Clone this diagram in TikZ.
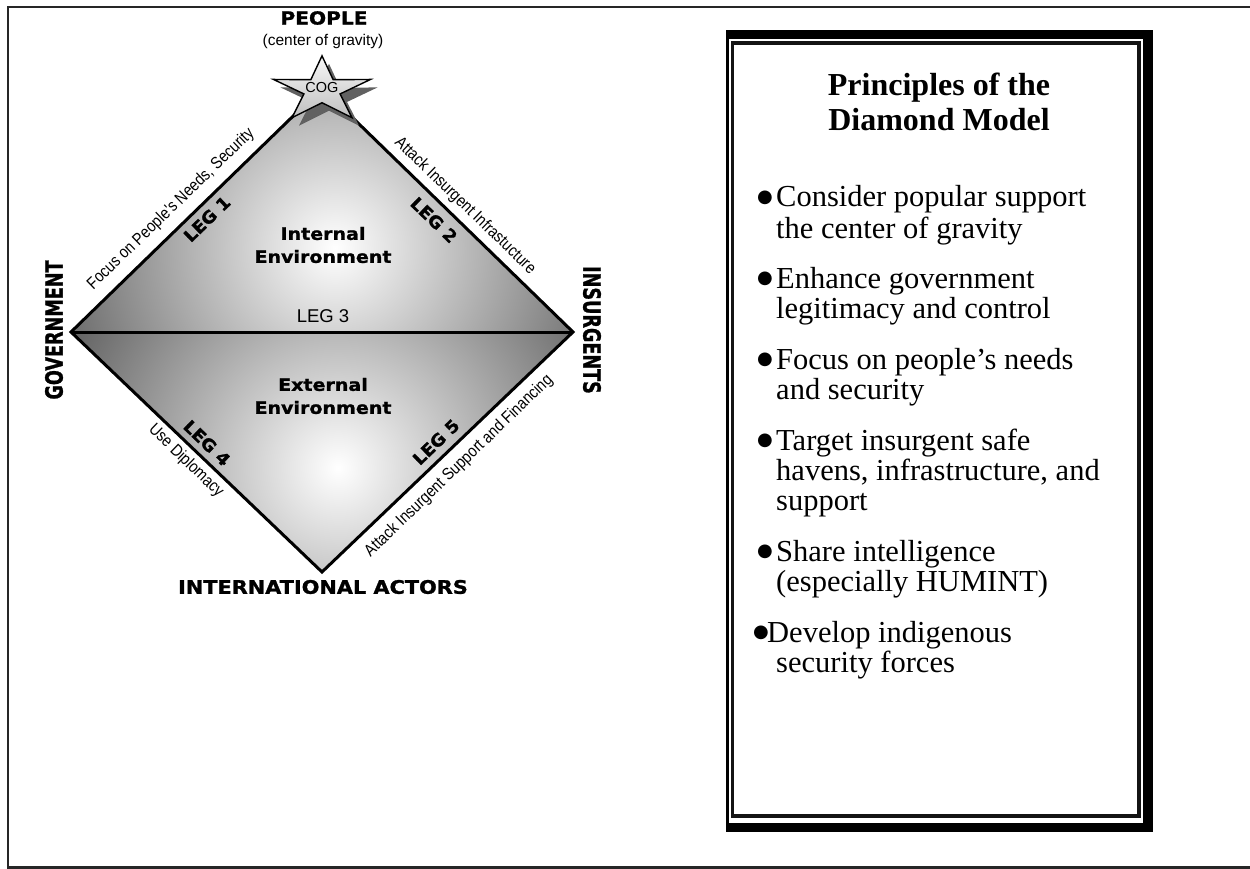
\documentclass[tikz,border=0pt]{standalone}
\usepackage{fontspec}
\setmainfont{Liberation Serif}
\newfontfamily\labfont{Liberation Sans}
\newfontfamily\labnarrow{Liberation Sans}[FakeStretch=0.86]
\newfontfamily\heavy{DejaVu Sans}[FakeStretch=1.12, FakeBold=1.3]
\newfontfamily\heavyr{DejaVu Sans}[FakeBold=1.3]
\newfontfamily\heavyleg{DejaVu Sans}[FakeStretch=1.05, FakeBold=1.2]
\newfontfamily\symfont{DejaVu Sans}
\newcommand\bulletglyph{\raisebox{4.6pt}{●}}
\tikzset{
  edgelab/.style={font=\labnarrow\fontsize{16.8}{18}\selectfont, inner sep=0pt},
  leglab/.style={font=\heavyleg\bfseries\fontsize{17}{19}\selectfont, inner sep=0pt},
  biglab/.style={font=\heavy\bfseries\fontsize{18}{20}\selectfont, inner sep=0pt},
  envlab/.style={font=\heavy\bfseries\fontsize{17}{23}\selectfont, align=center, inner sep=0pt},
  vertlab/.style={font=\heavyr\bfseries\fontsize{17.6}{20}\selectfont, inner sep=0pt},
  bodytxt/.style={font=\fontsize{30.5}{31}\selectfont, anchor=base west, inner sep=0pt},
  bulletmark/.style={font=\symfont\fontsize{18}{20}\selectfont, anchor=base west, inner sep=0pt},
  titletxt/.style={font=\bfseries\fontsize{32}{34}\selectfont, anchor=base, inner sep=0pt},
  edge/.style={line width=3pt, black, line join=miter},
  framel/.style={line width=2.4pt, black!85},
}
\begin{document}
\begin{tikzpicture}[x=1pt,y=-1pt]
\useasboundingbox (0,0) rectangle (1250,869);
% outer frame
\draw[framel] (7,7) -- (1250,7);
\draw[framel] (8,7) -- (8,867.5);
\draw[framel] (7,867.5) -- (1250,867.5);

% diamond vertices
\coordinate (gov) at (71,332);
\coordinate (ins) at (573,332);
\coordinate (peo) at (322,88);
\coordinate (int) at (322,572);

% shaded halves
\begin{scope}
  \clip (gov) -- (peo) -- (ins) -- cycle;
  \shade[inner color=white, outer color=black!62] (335,248) circle (300);
\end{scope}
\begin{scope}
  \clip (gov) -- (int) -- (ins) -- cycle;
  \shade[inner color=white, outer color=black!66] (338,468) circle (320);
\end{scope}
\draw[edge] (gov) -- (peo) -- (ins) -- (int) -- cycle;
\draw[edge] (gov) -- (ins);

% star (shadow, then star)
\fill[black!62] plot[samples at={0,...,9}, variable=\k]
  ({329+(35+16*cos(180*\k))*cos(90+36*\k)}, {98-0.67*(35+16*cos(180*\k))*sin(90+36*\k)}) -- cycle;
\shade[top color=black!3, bottom color=black!25, draw=black, line width=1.4pt] plot[samples at={0,...,9}, variable=\k]
  ({322+(35+16*cos(180*\k))*cos(90+36*\k)}, {90-0.67*(35+16*cos(180*\k))*sin(90+36*\k)}) -- cycle;
\node[font=\labfont\fontsize{14.5}{16}\selectfont, inner sep=0pt] (cog) at (322,88) {COG};

% corner labels
\node[biglab] (people) at (324,18) {PEOPLE};
\node[font=\labfont\fontsize{15.5}{17}\selectfont, inner sep=0pt] (cgrav) at (323,41) {(center of gravity)};
\node[biglab, font=\heavy\bfseries\fontsize{18.6}{20}\selectfont] (intact) at (323,587) {INTERNATIONAL ACTORS};
\node[vertlab, rotate=90] (govlab) at (54,330) {\scalebox{1}[1.35]{GOVERNMENT}};
\node[vertlab, rotate=-90] (inslab) at (592,330) {\scalebox{1}[1.35]{INSURGENTS}};

% environment labels
\node[envlab] (intenv) at (323,245) {Internal\\Environment};
\node[envlab] (extenv) at (323,396) {External\\Environment};

% leg labels
\node[leglab, rotate=44] (leg1) at (207,219) {LEG 1};
\node[leglab, rotate=-44] (leg2) at (434,220) {LEG 2};
\node[font=\labfont\fontsize{18.5}{20}\selectfont, inner sep=0pt] (leg3) at (323,316.5) {LEG 3};
\node[leglab, rotate=-44] (leg4) at (207,443) {LEG 4};
\node[leglab, rotate=44] (leg5) at (436,442) {LEG 5};

% edge labels
\node[edgelab, rotate=44] (e1) at (171,209) {Focus on People's Needs, Security};
\node[edgelab, rotate=-44] (e2) at (465,206) {Attack Insurgent Infrastucture};
\node[edgelab, rotate=-44] (e4) at (186,461) {Use Diplomacy};
\node[edgelab, rotate=44] (e5) at (459,466) {Attack Insurgent Support and Financing};

% principles box
\fill[black] (726,30) rectangle (1153,832);
\fill[white] (728.5,39) rectangle (1143,823);
\draw[line width=3.4pt, black!92] (732.7,43) rectangle (1139,816);

\node[titletxt] (ti1) at (939,96) {Principles of the};
\node[titletxt] (ti2) at (939,131) {Diamond Model};

\node[bulletmark] (b1) at (757,207) {\bulletglyph};
\node[bodytxt] (l1a) at (776,207) {Consider popular support};
\node[bodytxt] (l1b) at (776,238) {the center of gravity};
\node[bulletmark] (b2) at (757,288) {\bulletglyph};
\node[bodytxt] (l2a) at (776,288) {Enhance government};
\node[bodytxt] (l2b) at (776,318) {legitimacy and control};
\node[bulletmark] (b3) at (757,369) {\bulletglyph};
\node[bodytxt] (l3a) at (776,369) {Focus on people’s needs};
\node[bodytxt] (l3b) at (776,399) {and security};
\node[bulletmark] (b4) at (757,450) {\bulletglyph};
\node[bodytxt] (l4a) at (776,450) {Target insurgent safe};
\node[bodytxt] (l4b) at (776,480) {havens, infrastructure, and};
\node[bodytxt] (l4c) at (776,510) {support};
\node[bulletmark] (b5) at (757,561) {\bulletglyph};
\node[bodytxt] (l5a) at (776,561) {Share intelligence};
\node[bodytxt] (l5b) at (776,591) {(especially HUMINT)};
\node[bulletmark] (b6) at (753,642) {\bulletglyph};
\node[bodytxt] (l6a) at (767,642) {Develop indigenous};
\node[bodytxt] (l6b) at (776,672) {security forces};
\end{tikzpicture}
\end{document}
